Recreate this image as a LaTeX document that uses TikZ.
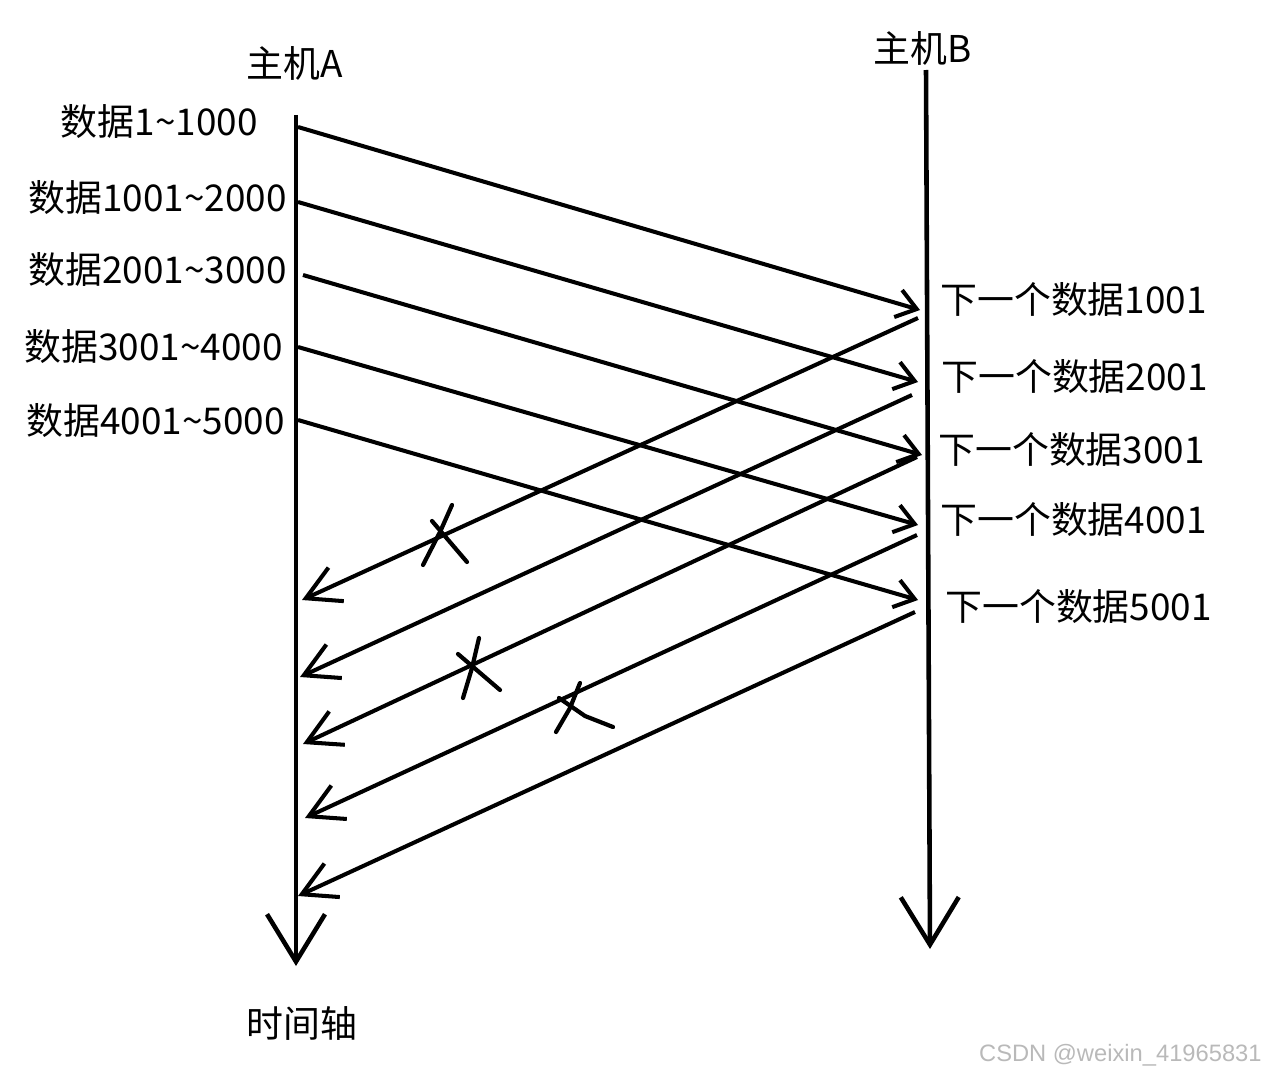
\documentclass[tikz,border=0pt]{standalone}
\usepackage{fontspec}
\newfontfamily\cjkfont{Noto Sans CJK SC}
\newfontfamily\markfont{Liberation Sans}
\usepackage{tikz}
\usetikzlibrary{arrows.meta}
\definecolor{penblack}{RGB}{0, 0, 0}
\definecolor{markgray}{RGB}{185, 185, 185}

\begin{document}
\begin{tikzpicture}[x=0.02cm, y=-0.02cm,
    font=\cjkfont\fontsize{21}{24}\selectfont,
    lbl/.style={inner sep=0pt, text=penblack},
    host/.style={draw=penblack, line width=2.6pt, -{Straight Barb[length=27pt, width=33pt]}},
    msg/.style={draw=penblack, line width=2.3pt, -{Straight Barb[length=11pt, width=16pt]}},
    ack/.style={draw=penblack, line width=2.3pt, -{Straight Barb[length=19pt, width=21pt]}},
    lost/.style={draw=penblack, line width=2.4pt, line cap=round}]
  \useasboundingbox (0,0) rectangle (1268,1078);
  % time axes of the two hosts
  \coordinate (atop) at (296,115);
  \coordinate (abot) at (296,966);
  \coordinate (btop) at (926,70);
  \coordinate (bbot) at (930,949);
  \draw[host] (atop) -- (abot);
  \draw[host] (btop) -- (bbot);
  \node[lbl] (hostA) at (295,63) {主机A};
  \node[lbl] (hostB) at (923,48) {主机B};
  \node[lbl] (axis) at (302,1023) {时间轴};
  % data segments sent by A
  \node[lbl, anchor=east] (seg1) at (258,122) {数据1\textasciitilde1000};
  \node[lbl, anchor=east] (seg2) at (287,198) {数据1001\textasciitilde2000};
  \node[lbl, anchor=east] (seg3) at (287,270) {数据2001\textasciitilde3000};
  \node[lbl, anchor=east] (seg4) at (283,347) {数据3001\textasciitilde4000};
  \node[lbl, anchor=east] (seg5) at (285,421) {数据4001\textasciitilde5000};
  \coordinate (a1) at (298,127);  \coordinate (b1) at (920,310);
  \coordinate (a2) at (298,202);  \coordinate (b2) at (918,382);
  \coordinate (a3) at (303,275);  \coordinate (b3) at (922,455);
  \coordinate (a4) at (298,347);  \coordinate (b4) at (918,525);
  \coordinate (a5) at (298,420);  \coordinate (b5) at (918,600);
  \draw[msg] (a1) -- (b1);
  \draw[msg] (a2) -- (b2);
  \draw[msg] (a3) -- (b3);
  \draw[msg] (a4) -- (b4);
  \draw[msg] (a5) -- (b5);
  % acknowledgements sent by B
  \node[lbl, anchor=west] (ack1) at (940,300) {下一个数据1001};
  \node[lbl, anchor=west] (ack2) at (941,377) {下一个数据2001};
  \node[lbl, anchor=west] (ack3) at (938,450) {下一个数据3001};
  \node[lbl, anchor=west] (ack4) at (940,520) {下一个数据4001};
  \node[lbl, anchor=west] (ack5) at (945,607) {下一个数据5001};
  \coordinate (r1) at (918,318);  \coordinate (s1) at (302,600);
  \coordinate (r2) at (912,395);  \coordinate (s2) at (300,677);
  \coordinate (r3) at (917,457);  \coordinate (s3) at (303,744);
  \coordinate (r4) at (917,535);  \coordinate (s4) at (305,818);
  \coordinate (r5) at (915,612);  \coordinate (s5) at (298,896);
  \draw[ack] (r1) -- (s1);
  \draw[ack] (r2) -- (s2);
  \draw[ack] (r3) -- (s3);
  \draw[ack] (r4) -- (s4);
  \draw[ack] (r5) -- (s5);
  % lost acknowledgements
  \draw[lost] (452,505) -- (440,532) -- (423,565);
  \draw[lost] (432,521) -- (467,562);
  \draw[lost] (479,638) -- (472,668) -- (463,698);
  \draw[lost] (458,654) -- (500,690);
  \draw[lost] (580,683) -- (570,708) -- (556,732);
  \draw[lost] (559,698) -- (585,716) -- (613,727);
  % watermark
  \node[lbl, anchor=east, text=markgray, font=\markfont\fontsize{13.5}{16}\selectfont]
        (wm) at (1262,1055) {CSDN @weixin\_41965831};
\end{tikzpicture}
\end{document}
